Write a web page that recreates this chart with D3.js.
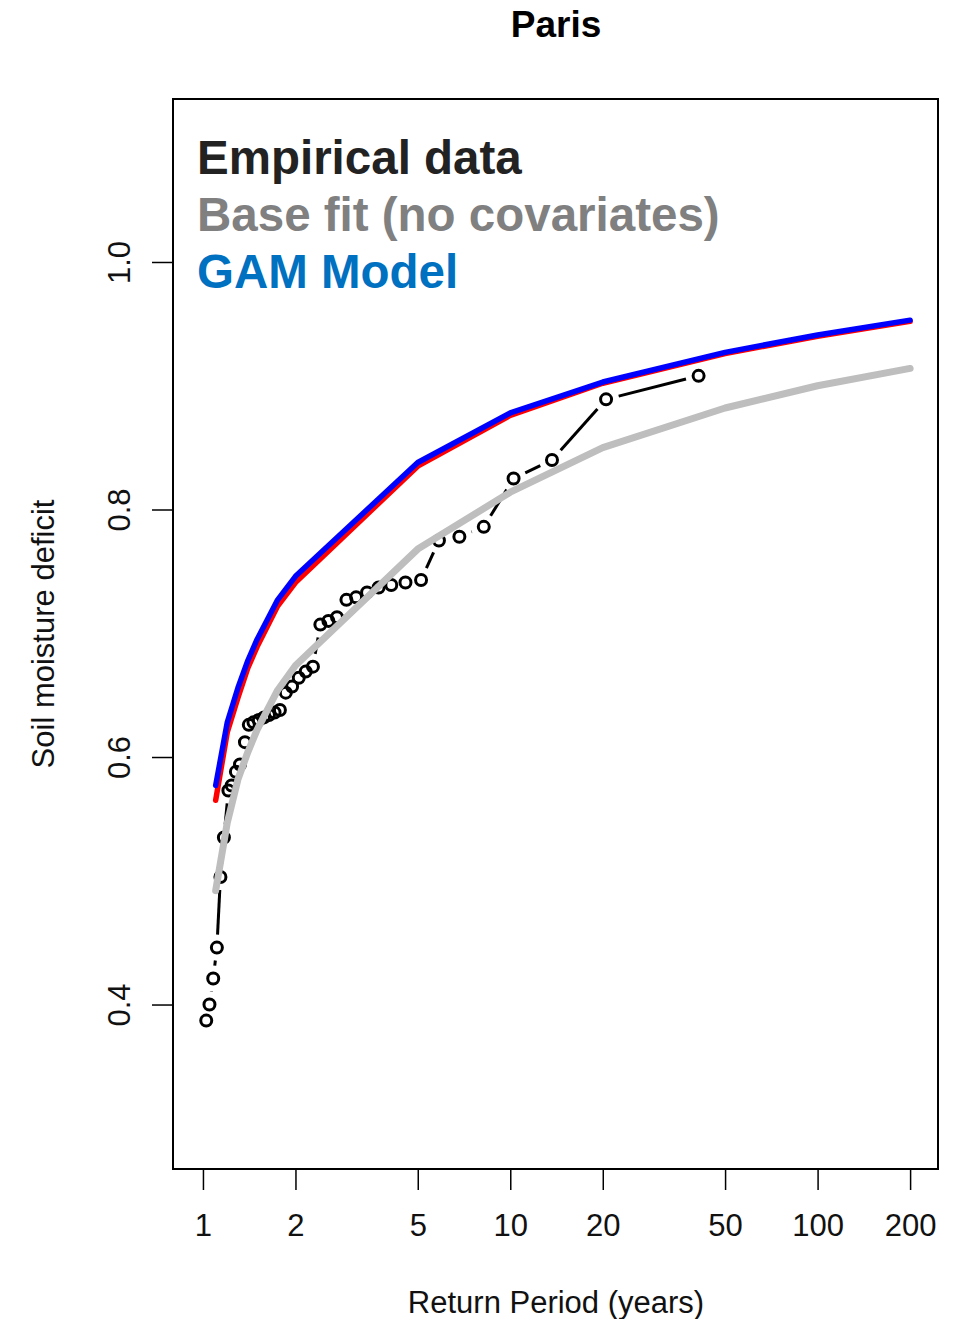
<!DOCTYPE html>
<html>
<head>
<meta charset="utf-8">
<script src="https://cdn.jsdelivr.net/npm/d3@7"></script>
<style>
  body { margin: 0; background: #fff; }
  text { font-family: "Liberation Sans", Arial, sans-serif; }
</style>
</head>
<body>
<script>
'use strict';

// Paris - return period plot

// empirical data (plotting positions, 40 yrs)
var empT = [41, 20.5, 13.67, 10.25, 8.2, 6.83, 5.86, 5.125, 4.56, 4.1,
            3.73, 3.42, 3.15, 2.93, 2.73, 2.56, 2.41, 2.28, 2.16, 2.05,
            1.95, 1.86, 1.78, 1.71, 1.64, 1.58, 1.52, 1.46, 1.41, 1.37,
            1.32, 1.28, 1.24, 1.21, 1.17, 1.14, 1.11, 1.08, 1.05, 1.025];
var empV = [0.908, 0.889, 0.840, 0.825, 0.786, 0.778, 0.775, 0.743, 0.741, 0.739,
            0.737, 0.733, 0.729, 0.727, 0.713, 0.710, 0.707, 0.673, 0.669, 0.664,
            0.657, 0.652, 0.638, 0.636, 0.634, 0.632, 0.630, 0.628, 0.626, 0.612,
            0.594, 0.588, 0.577, 0.573, 0.535, 0.503, 0.446, 0.421, 0.400, 0.387];

// fitted curves
var fitT = [1.1, 1.2, 1.3, 1.4, 1.5, 1.75, 2, 5, 10, 20, 50, 100, 200];
var baseV = [0.492, 0.547, 0.582, 0.604, 0.622, 0.654, 0.674, 0.768, 0.814, 0.850, 0.882, 0.900, 0.914];
var gamV = [0.577, 0.628, 0.656, 0.678, 0.695, 0.727, 0.746, 0.838, 0.878, 0.903, 0.927, 0.941, 0.953];
var gamAltV = [0.565, 0.620, 0.648, 0.672, 0.689, 0.722, 0.741, 0.835, 0.876, 0.902, 0.926, 0.940, 0.952];

var xTicks = [1, 2, 5, 10, 20, 50, 100, 200];
var yTicks = [0.4, 0.6, 0.8, 1.0];

var legendLabels = ['Empirical data', 'Base fit (no covariates)', 'GAM Model'];
var legendColors = ['#222222', '#808080', '#0070c0'];

//Sizing things.
var width = 958, height = 1319;
var box = { left: 173, right: 938, top: 99, bottom: 1169 };

var svg = d3.select('body').append('svg')
    .attr('width', width)
    .attr('height', height);

var x = d3.scaleLog().domain([0.799, 246.5]).range([box.left, box.right]);
var y = d3.scaleLinear().domain([0.2671, 1.1317]).range([box.bottom, box.top]);

// title
svg.append('text')
  .attr('x', 556).attr('y', 37)
  .attr('text-anchor', 'middle')
  .style('font-size', '37px')
  .style('font-weight', 'bold')
  .text('Paris');

// axes
var xAxis = svg.append('g')
  .attr('transform', 'translate(0,' + box.bottom + ')')
  .call(d3.axisBottom(x).tickValues(xTicks).tickFormat(d3.format('d')).tickSize(21).tickPadding(24));

var yAxis = svg.append('g')
  .attr('transform', 'translate(' + box.left + ',0)')
  .call(d3.axisLeft(y).tickValues(yTicks).tickFormat(d3.format('.1f')).tickSize(21));

[xAxis, yAxis].forEach(function (g) {
  g.select('.domain').remove();
  g.selectAll('line').attr('stroke', '#000').attr('stroke-width', 1.5);
  g.selectAll('text')
    .style('font-size', '31px')
    .style('font-family', '"Liberation Sans", Arial, sans-serif')
    .attr('fill', '#111');
});

xAxis.selectAll('text').attr('dy', '0.72em');

// R style: y labels rotated, parallel to axis
yAxis.selectAll('.tick text')
  .attr('x', null).attr('dy', null)
  .attr('text-anchor', 'middle')
  .attr('transform', 'translate(-43,0) rotate(-90)');

// axis titles
svg.append('text')
  .attr('x', 556).attr('y', 1313)
  .attr('text-anchor', 'middle')
  .style('font-size', '31px')
  .attr('fill', '#111')
  .text('Return Period (years)');

svg.append('text')
  .attr('transform', 'translate(54,634) rotate(-90)')
  .attr('text-anchor', 'middle')
  .style('font-size', '31px')
  .attr('fill', '#111')
  .text('Soil moisture deficit');

// plot region
var plot = svg.append('g');

// empirical: type "b" - segments with gaps round the points
var emp = empT.map(function (t, i) { return [x(t), y(empV[i])]; });
var gap = 13;
for (var i = 0; i < emp.length - 1; i++) {
  var p = emp[i], q = emp[i + 1];
  var dx = q[0] - p[0], dy = q[1] - p[1];
  var len = Math.sqrt(dx * dx + dy * dy);
  if (len <= 2 * gap) continue;
  var ux = dx / len, uy = dy / len;
  plot.append('line')
    .attr('x1', p[0] + ux * gap).attr('y1', p[1] + uy * gap)
    .attr('x2', q[0] - ux * gap).attr('y2', q[1] - uy * gap)
    .attr('stroke', '#000').attr('stroke-width', 3);
}

plot.selectAll('circle.emp')
  .data(empT)
  .enter().append('circle')
  .attr('class', 'emp')
  .attr('cx', function (d) { return x(d); })
  .attr('cy', function (d, i) { return y(empV[i]); })
  .attr('r', 5.5)
  .attr('fill', 'none')
  .attr('stroke', '#000')
  .attr('stroke-width', 3);

// fitted lines
var line = d3.line()
  .x(function (d) { return x(d[0]); })
  .y(function (d) { return y(d[1]); });

function addCurve(vals, col, w) {
  plot.append('path')
    .datum(fitT.map(function (t, i) { return [t, vals[i]]; }))
    .attr('d', line)
    .attr('fill', 'none')
    .attr('stroke', col)
    .attr('stroke-width', w)
    .attr('stroke-linecap', 'round')
    .attr('stroke-linejoin', 'round');
}

addCurve(baseV, '#bebebe', 7);
addCurve(gamAltV, '#ff0000', 5.5);
addCurve(gamV, '#0000ff', 5.5);

// box
svg.append('rect')
  .attr('x', box.left).attr('y', box.top)
  .attr('width', box.right - box.left)
  .attr('height', box.bottom - box.top)
  .attr('fill', 'none')
  .attr('stroke', '#000')
  .attr('stroke-width', 2);

// legend text (coloured labels, no keys)
svg.selectAll('text.legend')
  .data(legendLabels)
  .enter().append('text')
  .attr('class', 'legend')
  .attr('x', 197)
  .attr('y', function (d, i) { return 174 + i * 57; })
  .style('font-size', '47.5px')
  .style('font-weight', 'bold')
  .attr('fill', function (d, i) { return legendColors[i]; })
  .text(function (d) { return d; });
</script>
</body>
</html>
